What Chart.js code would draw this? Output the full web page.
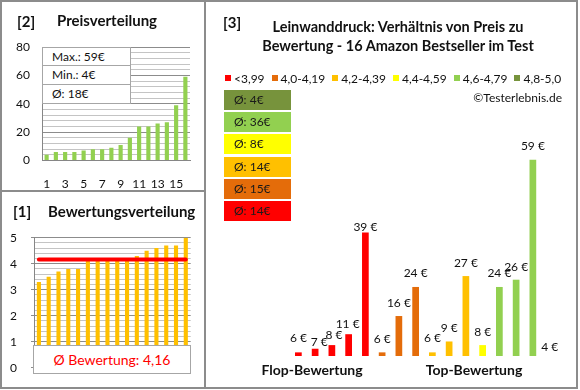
<!DOCTYPE html>
<html><head><meta charset="utf-8">
<script src="https://cdn.jsdelivr.net/npm/chart.js@4.4.0/dist/chart.umd.min.js"></script>
<style>
body{margin:0;background:#fff;}
#root{position:relative;width:580px;height:390px;background:#fff;font-family:Lato,"Open Sans",sans-serif;color:#111;overflow:hidden;}
.t{position:absolute;white-space:nowrap;height:20px;line-height:20px;}
.b{font-weight:bold;}
canvas{position:absolute;}
.box{position:absolute;background:#fff;border:1px solid #a6a6a6;box-sizing:border-box;}
.avg{position:absolute;left:224px;width:67px;height:20px;line-height:20px;font-size:12px;padding-left:10px;box-sizing:border-box;color:#1a1a1a;}
#legend{position:absolute;left:225px;top:70px;height:16px;display:flex;align-items:center;font-size:12px;}
#legend .it{display:flex;align-items:center;margin-right:7px;}
#legend .sq{width:6px;height:6px;margin-right:3px;}
</style></head>
<body>
<div id="root">
  <div style="position:absolute;left:0;top:0;width:574px;height:385px;border:2px solid #8c8c8c;"></div>
  <div style="position:absolute;left:204px;top:0;width:2px;height:389px;background:#8c8c8c;"></div>
  <div style="position:absolute;left:0;top:190px;width:205px;height:2px;background:#8c8c8c;"></div>

  <canvas id="c2" width="205" height="191" style="left:0;top:0;"></canvas>
  <canvas id="c1" width="205" height="197" style="left:0;top:192px;"></canvas>
  <canvas id="c3" width="373" height="389" style="left:205px;top:0;"></canvas>

  <div class="t b" style="left:17px;top:11px;font-size:15px;">[2]</div>
  <div class="t b" style="left:57px;top:10px;font-size:15px;">Preisverteilung</div>
  <div class="t b" style="left:13px;top:201px;font-size:15px;">[1]</div>
  <div class="t b" style="left:48px;top:201px;font-size:15px;">Bewertungsverteilung</div>
  <div class="t b" style="left:223px;top:12px;font-size:15px;">[3]</div>
  <div class="t b" style="left:248px;width:300px;text-align:center;top:17px;font-size:14.5px;">Leinwanddruck: Verhältnis von Preis zu</div>
  <div class="t b" style="left:248px;width:300px;text-align:center;top:36px;font-size:14.5px;">Bewertung - 16 Amazon Bestseller im Test</div>

  <div id="statbox" class="box" style="left:42px;top:47px;width:89px;height:57px;"></div>
  <div id="ratebox" class="box" style="left:33px;top:345px;width:158px;height:29px;"></div>

  <div id="legend"></div>
  <div class="t" style="left:400px;width:162px;text-align:right;top:88px;font-size:12px;">©Testerlebnis.de</div>
  <div id="avgs"></div>

  <div class="t b" style="left:252px;width:120px;text-align:center;top:360px;font-size:14px;">Flop-Bewertung</div>
  <div class="t b" style="left:414px;width:120px;text-align:center;top:360px;font-size:14px;">Top-Bewertung</div>
</div>
<script>
// ---- data ----
const rankLabels = ['1','2','3','4','5','6','7','8','9','10','11','12','13','14','15','16'];
const pricesSorted = [4,6,6,6,7,8,8,9,11,16,24,24,26,27,39,59];
const ratingsSorted = [3.3,3.5,3.7,3.8,3.8,4.1,4.1,4.1,4.2,4.2,4.3,4.5,4.6,4.7,4.7,5.0];
const groupLabels = ['<3,99','4,0-4,19','4,2-4,39','4,4-4,59','4,6-4,79','4,8-5,0'];
const barPrices = [6,7,8,11,39,6,16,24,6,9,27,8,24,26,59,4];
const barGroup = [0,0,0,0,0,1,1,1,2,2,2,3,4,4,4,5];

// ---- styles ----
const groupColors = ['#FF0000','#E46C0A','#FFC000','#FFFF00','#92D050','#77933C'];
const labelNudge = [[0,-1],[4,6],[2,3],[-1,3],[0,8],[0,0],[0,0],[0,-1],[0,-1],[0,0],[0,0],[0,0],[0,-1],[0,0],[0,-1],[0,0]];

Chart.defaults.font.family = 'Lato, "Open Sans", sans-serif';
Chart.defaults.color = '#111';

const fmt = (v, d) => v.toFixed(d).replace('.', ',');
const isInt = v => Math.abs(v - Math.round(v)) < 1e-6;

// stat box text
const avgPrice = pricesSorted.reduce((a,b)=>a+b,0)/pricesSorted.length;
const stats = ['Max.: ' + Math.max(...pricesSorted) + '€', 'Min.: ' + Math.min(...pricesSorted) + '€', 'Ø: ' + Math.round(avgPrice) + '€'];
const sb = document.getElementById('statbox');
stats.forEach((s,i)=>{
  const d = document.createElement('div');
  d.textContent = s;
  d.style.cssText = 'height:18.3px;line-height:18px;font-size:12px;padding-left:9px;box-sizing:border-box;' + (i<2?'border-bottom:1px solid #a6a6a6;':'');
  sb.appendChild(d);
});
const avgRating = ratingsSorted.reduce((a,b)=>a+b,0)/ratingsSorted.length;
const rb = document.getElementById('ratebox');
rb.innerHTML = '<div style="text-align:center;line-height:27px;font-size:14px;color:#FF0000;">Ø Bewertung: ' + fmt(avgRating,2) + '</div>';

// legend
const lg = document.getElementById('legend');
groupLabels.forEach((l,i)=>{
  const it = document.createElement('div'); it.className='it';
  it.innerHTML = '<div class="sq" style="background:'+groupColors[i]+'"></div><span>'+l.replace('<','&lt;')+'</span>';
  lg.appendChild(it);
});
// group averages
const av = document.getElementById('avgs');
for (let g = groupLabels.length-1, k=0; g >= 0; g--, k++) {
  const vals = barPrices.filter((p,i)=>barGroup[i]===g);
  const m = Math.round(vals.reduce((a,b)=>a+b,0)/vals.length);
  const d = document.createElement('div'); d.className='avg';
  d.style.top = (90 + k*22.2) + 'px';
  d.style.background = groupColors[g];
  d.textContent = 'Ø: ' + m + '€';
  av.appendChild(d);
}

// ---- chart [2] Preisverteilung ----
new Chart(document.getElementById('c2'), {
  type: 'bar',
  data: { labels: rankLabels, datasets: [{ data: pricesSorted, backgroundColor: '#92D050', barPercentage: 0.45, categoryPercentage: 1 }] },
  options: {
    responsive: false, animation: false, devicePixelRatio: 1,
    layout: { padding: { top: 47, right: 15, left: 0, bottom: 0 } },
    plugins: { legend: { display: false }, tooltip: { enabled: false } },
    scales: {
      x: { grid: { display: false, drawTicks: false }, border: { color: '#868686' },
           ticks: { autoSkip: false, maxRotation: 0, padding: 16, font: { size: 12 }, callback: (v, i) => i % 2 === 0 ? rankLabels[i] : '' },
           afterFit: s => { s.height = 30.5; } },
      y: { min: 0, max: 80, border: { color: '#868686' },
           ticks: { autoSkip: false, stepSize: 4, maxTicksLimit: 100, padding: 12, font: { size: 12 }, callback: v => v % 20 === 0 ? v : '' },
           grid: { drawTicks: false, color: c => (c.tick && c.tick.value % 20 === 0) ? '#8c8c8c' : '#c4c4c4' },
           afterFit: s => { s.width = 42; } }
    }
  }
});

// ---- chart [1] Bewertungsverteilung ----
new Chart(document.getElementById('c1'), {
  type: 'bar',
  data: { labels: rankLabels, datasets: [
    { type: 'line', data: ratingsSorted.map(() => avgRating), borderColor: '#FF0000', borderWidth: 4, pointRadius: 0, borderCapStyle: 'round', order: 0 },
    { data: ratingsSorted, backgroundColor: '#FFC000', barPercentage: 0.42, categoryPercentage: 1, order: 1 }
  ] },
  options: {
    responsive: false, animation: false, devicePixelRatio: 1,
    layout: { padding: { top: 45.7, right: 14.3, left: 0, bottom: 16 } },
    plugins: { legend: { display: false }, tooltip: { enabled: false } },
    scales: {
      x: { display: false },
      y: { min: 0, max: 5, border: { color: '#868686' },
           ticks: { autoSkip: false, stepSize: 0.2, maxTicksLimit: 100, padding: 14, font: { size: 12 }, callback: v => isInt(v) ? Math.round(v) : '' },
           grid: { tickLength: 3, color: c => (c.tick && isInt(c.tick.value)) ? '#8c8c8c' : '#c4c4c4',
                   tickColor: c => (c.tick && isInt(c.tick.value)) ? '#8c8c8c' : 'rgba(0,0,0,0)' },
           afterFit: s => { s.width = 34; } }
    }
  }
});

// ---- chart [3] Preis vs Bewertung ----
const valueLabels = {
  id: 'valueLabels',
  afterDatasetsDraw(chart) {
    const ctx = chart.ctx, y = chart.scales.y;
    const meta = chart.getDatasetMeta(0);
    ctx.save();
    ctx.font = '12px Lato, "Open Sans", sans-serif';
    ctx.fillStyle = '#111';
    ctx.textAlign = 'center';
    ctx.textBaseline = 'middle';
    meta.data.forEach((bar, i) => {
      const v = barPrices[i];
      const n = labelNudge[i];
      ctx.fillText(v + ' €', bar.x + n[0], y.getPixelForValue(v) - 13 + n[1]);
    });
    ctx.restore();
  }
};
new Chart(document.getElementById('c3'), {
  type: 'bar',
  data: { labels: rankLabels, datasets: [{ data: barPrices, backgroundColor: barGroup.map(g => groupColors[g]), barPercentage: 0.4, categoryPercentage: 1 }] },
  options: {
    responsive: false, animation: false, devicePixelRatio: 1,
    layout: { padding: { top: 138, right: 20, left: 85, bottom: 33 } },
    plugins: { legend: { display: false }, tooltip: { enabled: false } },
    scales: { x: { display: false }, y: { display: false, min: 5, max: 65 } }
  },
  plugins: [valueLabels]
});
</script>
</body></html>
